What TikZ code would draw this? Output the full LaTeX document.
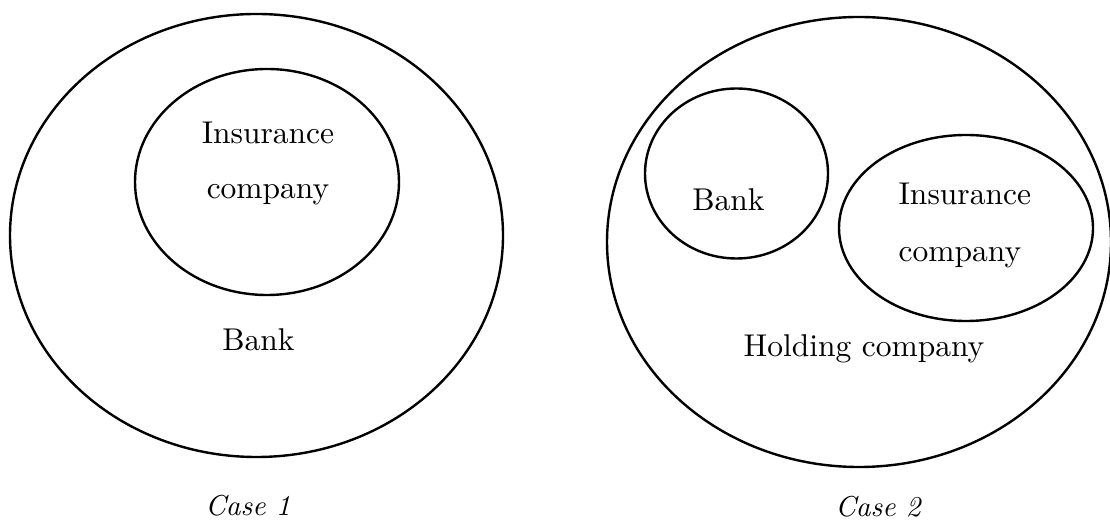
\documentclass[tikz,border=0pt]{standalone}
\usetikzlibrary{shapes.geometric}
\begin{document}
\begin{tikzpicture}[x=0.33333pt,y=-0.33333pt,
  ring/.style={draw, ellipse, line width=0.8pt, inner sep=0pt},
  lbl/.style={inner sep=0pt, font=\fontsize{10.5}{18.33}\selectfont},
  caselbl/.style={inner sep=0pt, anchor=base, font=\fontsize{9.6}{11}\selectfont\itshape}]
\useasboundingbox (0,0) rectangle (1110,520);
% Case 1
\node[ring, minimum width=493pt/3, minimum height=443pt/3] (bankA) at (256.5,235.5) {};
\node[ring, minimum width=264pt/3, minimum height=226pt/3] (insA) at (267,182) {};
\node[lbl, align=center] (insAtext) at (268,163) {Insurance\\company};
\node[lbl, anchor=base] (bankAtext) at (258.5,350.5) {Bank};
\node[caselbl] (case1) at (248,515) {Case 1};
% Case 2
\node[ring, minimum width=504pt/3, minimum height=450pt/3] (hold) at (859,242) {};
\node[ring, minimum width=183pt/3, minimum height=170pt/3] (bankB) at (736.5,173.5) {};
\node[ring, minimum width=254pt/3, minimum height=186pt/3] (insB) at (966,228) {};
\node[lbl, anchor=base] (bankBtext) at (728.5,211) {Bank};
\node[lbl, align=left, anchor=west] (insBtext) at (898,225.7) {Insurance\\[0.57pt]company};
\node[lbl, anchor=base] (holdtext) at (864,357) {Holding company};
\node[caselbl] (case2) at (878,516.7) {Case 2};
\end{tikzpicture}
\end{document}
